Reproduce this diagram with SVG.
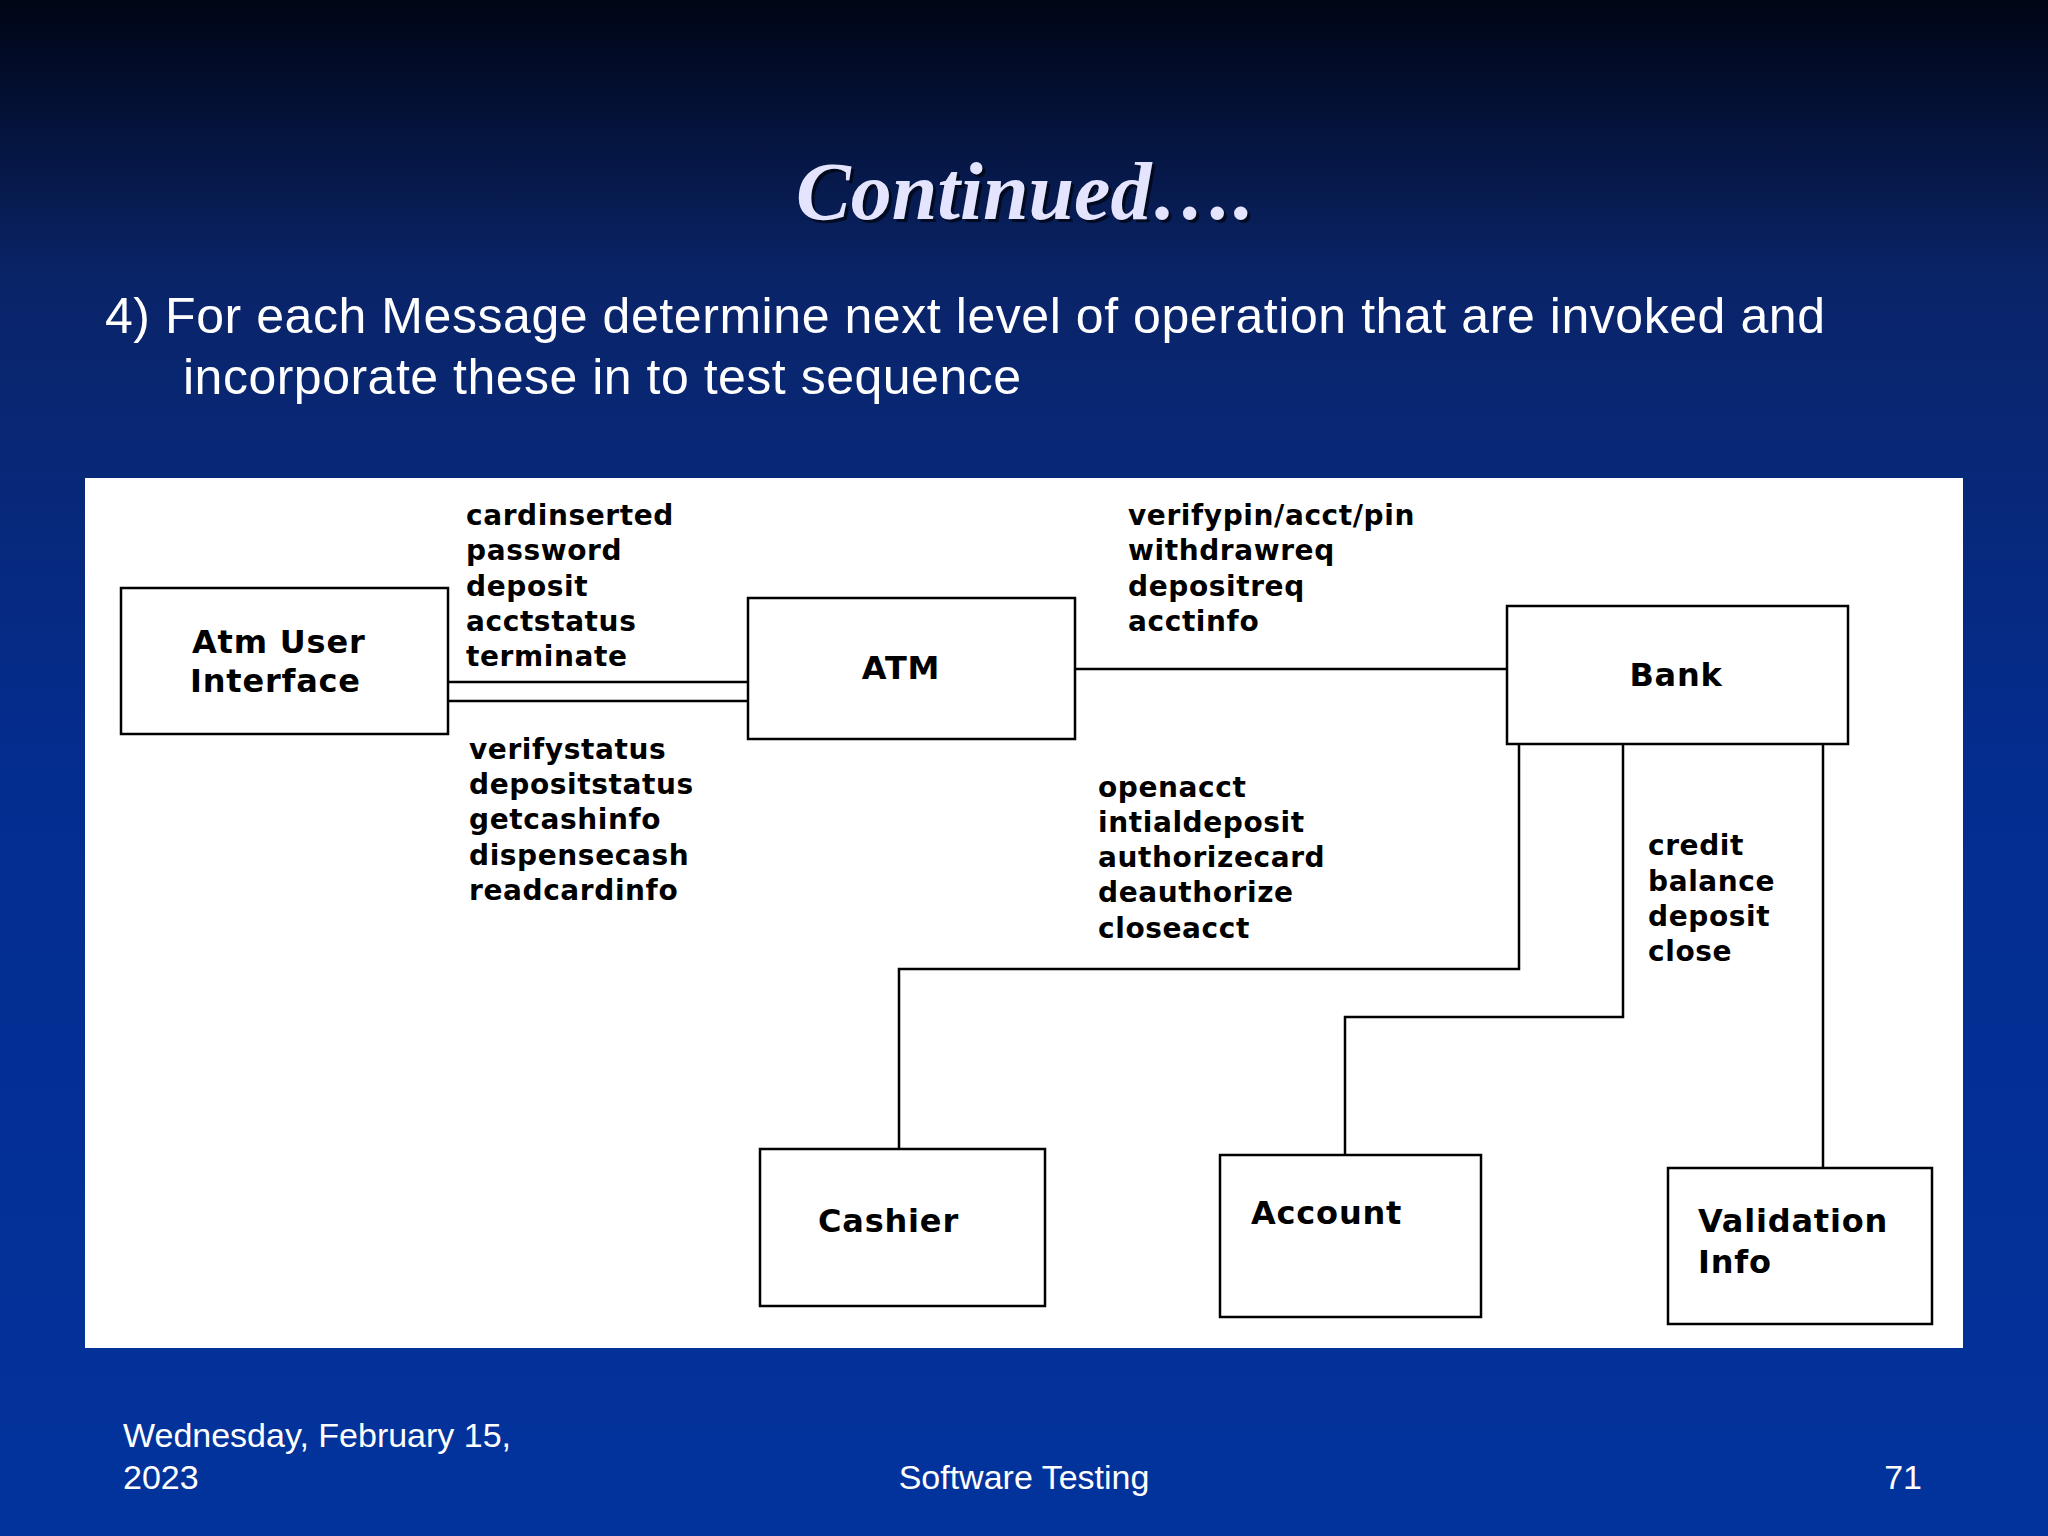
<svg xmlns="http://www.w3.org/2000/svg" width="2048" height="1536" viewBox="0 0 2048 1536">
<defs>
<linearGradient id="bg" x1="0" y1="0" x2="0" y2="1">
<stop offset="0" stop-color="#000515"/>
<stop offset="0.18" stop-color="#0a2468"/>
<stop offset="0.5" stop-color="#042d90"/>
<stop offset="1" stop-color="#02339c"/>
</linearGradient>
<style>
.box{fill:#fff;stroke:#000;stroke-width:2.5}
.ln{fill:none;stroke:#000;stroke-width:2.5}
.lb{font-family:"DejaVu Sans",sans-serif;font-weight:bold;font-size:28px;letter-spacing:0.6px;fill:#000}
.bt{font-family:"DejaVu Sans",sans-serif;font-weight:bold;font-size:32px;letter-spacing:0.8px;fill:#000}
.ft{font-family:"Liberation Sans",Arial,sans-serif;font-size:34px;fill:#fff}
</style>
</defs>
<rect width="2048" height="1536" fill="url(#bg)"/>
<text x="1028" y="222" text-anchor="middle" font-family="Liberation Serif,serif" font-style="italic" font-weight="bold" font-size="82" fill="#000" opacity="0.6">Continued….</text>
<text x="1025" y="219" text-anchor="middle" font-family="Liberation Serif,serif" font-style="italic" font-weight="bold" font-size="82" fill="#e4e4ff">Continued….</text>
<g font-family="Liberation Sans,Arial,sans-serif" font-size="50" fill="#fff">
<text x="105" y="333" textLength="1720" lengthAdjust="spacing">4) For each Message determine next level of operation that are invoked and</text>
<text x="183" y="394" textLength="838" lengthAdjust="spacing">incorporate these in to test sequence</text>
</g>
<rect x="85" y="478" width="1878" height="870" fill="#fff"/>
<g id="connectors">
<path class="ln" d="M448 682H748M448 701H748"/>
<path class="ln" d="M1075 669H1507"/>
<path class="ln" d="M1519 744V969H899V1149"/>
<path class="ln" d="M1623 744V1017H1345V1155"/>
<path class="ln" d="M1823 744V1168"/>
<text class="lb" x="466" y="525">cardinserted</text>
<text class="lb" x="466" y="560">password</text>
<text class="lb" x="466" y="596">deposit</text>
<text class="lb" x="466" y="631">acctstatus</text>
<text class="lb" x="466" y="666">terminate</text>
<text class="lb" x="469" y="759">verifystatus</text>
<text class="lb" x="469" y="794">depositstatus</text>
<text class="lb" x="469" y="829">getcashinfo</text>
<text class="lb" x="469" y="865">dispensecash</text>
<text class="lb" x="469" y="900">readcardinfo</text>
<text class="lb" x="1128" y="525">verifypin/acct/pin</text>
<text class="lb" x="1128" y="560">withdrawreq</text>
<text class="lb" x="1128" y="596">depositreq</text>
<text class="lb" x="1128" y="631">acctinfo</text>
<text class="lb" x="1098" y="797">openacct</text>
<text class="lb" x="1098" y="832">intialdeposit</text>
<text class="lb" x="1098" y="867">authorizecard</text>
<text class="lb" x="1098" y="902">deauthorize</text>
<text class="lb" x="1098" y="938">closeacct</text>
<text class="lb" x="1648" y="855">credit</text>
<text class="lb" x="1648" y="891">balance</text>
<text class="lb" x="1648" y="926">deposit</text>
<text class="lb" x="1648" y="961">close</text>
</g>
<g id="aui"><rect class="box" x="121" y="588" width="327" height="146"/><text class="bt" x="192" y="653">Atm User</text><text class="bt" x="190" y="692">Interface</text></g>
<g id="atm"><rect class="box" x="748" y="598" width="327" height="141"/><text class="bt" x="901" y="679" text-anchor="middle">ATM</text></g>
<g id="bank"><rect class="box" x="1507" y="606" width="341" height="138"/><text class="bt" x="1676" y="686" text-anchor="middle">Bank</text></g>
<g id="cashier"><rect class="box" x="760" y="1149" width="285" height="157"/><text class="bt" x="818" y="1232">Cashier</text></g>
<g id="account"><rect class="box" x="1220" y="1155" width="261" height="162"/><text class="bt" x="1251" y="1224">Account</text></g>
<g id="validation"><rect class="box" x="1668" y="1168" width="264" height="156"/><text class="bt" x="1698" y="1232">Validation</text><text class="bt" x="1698" y="1273">Info</text></g>
<text class="ft" x="123" y="1447">Wednesday, February 15,</text>
<text class="ft" x="123" y="1489">2023</text>
<text class="ft" x="1024" y="1489" text-anchor="middle">Software Testing</text>
<text class="ft" x="1922" y="1489" text-anchor="end">71</text>
</svg>
